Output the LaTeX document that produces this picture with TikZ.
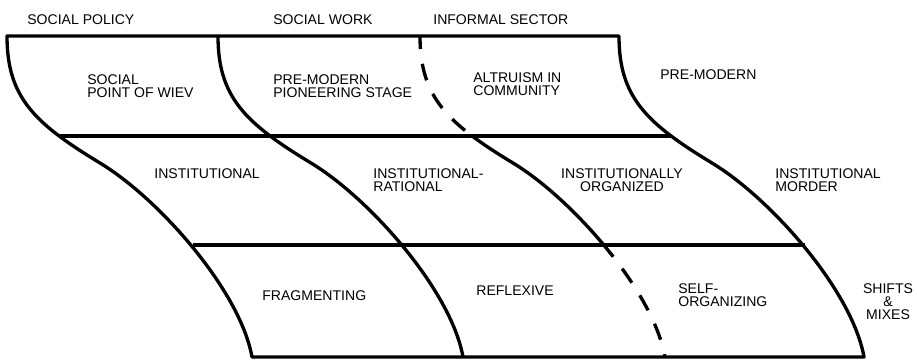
\documentclass[tikz,border=0pt]{standalone}
\usepackage{fontspec}
\setmainfont{Liberation Sans}
\usepackage{tikz}

\begin{document}
\begin{tikzpicture}[x=0.02cm,y=-0.02cm]
	\tikzstyle{border} = [line width=1.9pt,line join=round]
	\tikzstyle{border2} = [line width=1.9pt,dash pattern=on 9.7pt off 8.5pt]
	\tikzstyle{txt} = [font=\fontsize{8}{7.4}\selectfont,inner sep=0pt,anchor=west,align=left]
	\useasboundingbox (0,0) rectangle (917,360);
	
	% corners of the band
	\coordinate (tl) at (7,36);
	\coordinate (tr) at (619,36);
	\coordinate (bl) at (252,357);
	\coordinate (br) at (864,357);
	\coordinate (m1l) at (59,136);
	\coordinate (m1r) at (671,136);
	\coordinate (m2l) at (193,245);
	\coordinate (m2r) at (805,245);
	
	% outline
	\draw[border] (bl) .. controls (240,290) and (158,198) .. (100,163)
		.. controls (34,123) and (7,97) .. (tl) -- (tr)
		.. controls (619,97) and (646,123) .. (712,163)
		.. controls (770,198) and (852,290) .. (br) -- cycle;
	\draw[border,shift={(211,0)}] (7,36) .. controls (7,97) and (34,123) .. (100,163)
		.. controls (158,198) and (240,290) .. (252,357);
	\draw[border] (m1l) -- (m1r);
	\draw[border] (m2l) -- (m2r);
	
	% informal sector boundary
	\begin{scope}
		\clip (0,0) rectangle (917,136);
		\draw[border2,dash phase=2.3pt,shift={(413,0)}] (7,36) .. controls (7,97) and (34,123) .. (100,163);
	\end{scope}
	\begin{scope}
		\clip (0,136) rectangle (917,253);
		\draw[border,shift={(413,0)}] (7,36) .. controls (7,97) and (34,123) .. (100,163)
			.. controls (158,198) and (240,290) .. (252,357);
	\end{scope}
	\begin{scope}
		\clip (0,253) rectangle (917,360);
		\draw[border2,dash phase=8pt,shift={(413,0)}] (252,357) .. controls (240,290) and (158,198) .. (100,163);
	\end{scope}
	
	\node[txt] (h1) at (27,20) {SOCIAL POLICY};
	\node[txt] (h2) at (273,20) {SOCIAL WORK};
	\node[txt] (h3) at (433,20) {INFORMAL SECTOR};
	
	\node[txt] (c1) at (87,86.5) {SOCIAL\\POINT OF WIEV};
	\node[txt] (c2) at (273,86.5) {PRE-MODERN\\PIONEERING STAGE};
	\node[txt] (c3) at (473,84) {ALTRUISM IN\\COMMUNITY};
	\node[txt] (c4) at (660,75) {PRE-MODERN};
	\node[txt] (c5) at (154,174) {INSTITUTIONAL};
	\node[txt] (c6) at (373,180.5) {INSTITUTIONAL-\\RATIONAL};
	\node[txt,anchor=center,align=center] (c7) at (622,180.5) {INSTITUTIONALLY\\ORGANIZED};
	\node[txt] (c8) at (775,180.5) {INSTITUTIONAL\\MORDER};
	\node[txt] (c9) at (262,296) {FRAGMENTING};
	\node[txt] (c10) at (476,291) {REFLEXIVE};
	\node[txt] (c11) at (678,295.5) {SELF-\\ORGANIZING};
	\node[txt,anchor=center,align=center] (c12) at (888,301.5) {SHIFTS\\\&\\MIXES};
\end{tikzpicture}
\end{document}
